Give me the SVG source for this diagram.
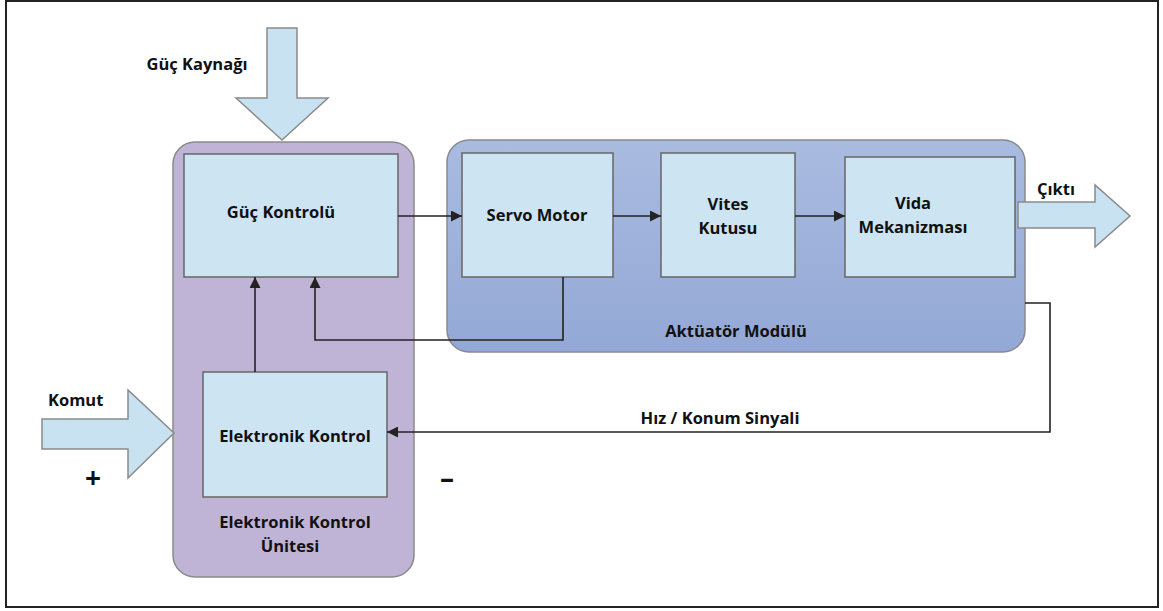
<svg xmlns="http://www.w3.org/2000/svg" width="1163" height="611" viewBox="0 0 1163 611">
  <defs>
    <marker id="ah" viewBox="0 0 10 10" refX="10" refY="5" markerWidth="11" markerHeight="11" markerUnits="userSpaceOnUse" orient="auto">
      <path d="M0,0 L10,5 L0,10 Z" fill="#222"/>
    </marker>
    <linearGradient id="modGrad" x1="0" y1="0" x2="0" y2="1">
      <stop offset="0" stop-color="#a9bbdf"/>
      <stop offset="1" stop-color="#93a8d6"/>
    </linearGradient>
  </defs>
  <style>
    .t { font-family: "Open Sans", "Liberation Sans", sans-serif; font-weight: bold; font-size: 16.5px; fill: #111; text-anchor: middle; }
    .tl { text-anchor: start; }
    .sign { font-size: 28px; }
    .box { fill: #cde4f2; stroke: #666; stroke-width: 1.5; }
    .fat { fill: #c8e2f1; stroke: #8a8a8a; stroke-width: 1.5; }
    .conn { fill: none; stroke: #222; stroke-width: 1.6; }
  </style>
  <rect x="0" y="0" width="1163" height="611" fill="#fff"/>
  <rect x="6" y="1" width="1152" height="606" fill="none" stroke="#222" stroke-width="2"/>

  <g id="ecu">
    <rect x="173" y="142" width="241" height="435" rx="22" fill="#c0b4d6" stroke="#8a8a8a" stroke-width="1.5"/>
    <text class="t" x="295" y="528">Elektronik Kontrol</text>
    <text class="t" x="290" y="552">Ünitesi</text>
  </g>

  <g id="actuator-module">
    <rect x="447" y="140" width="578" height="212" rx="22" fill="url(#modGrad)" stroke="#8a8a8a" stroke-width="1.5"/>
    <text class="t" x="736" y="337">Aktüatör Modülü</text>
  </g>

  <g id="power-source">
    <path class="fat" d="M267,28 L297,28 L297,98 L328,98 L282,140 L236,98 L267,98 Z"/>
    <text class="t" x="197" y="70">Güç Kaynağı</text>
  </g>

  <g id="command">
    <path class="fat" d="M42,419 L128,419 L128,390 L174,433 L128,478 L128,449 L42,449 Z"/>
    <text class="t tl" x="48" y="406">Komut</text>
    <text class="t sign" x="93" y="488">+</text>
    <text class="t sign" x="447" y="488">–</text>
  </g>

  <g id="output">
    <path class="fat" d="M1018,202 L1095,202 L1095,185 L1130,216 L1095,247 L1095,228 L1018,228 Z"/>
    <text class="t tl" x="1037" y="195">Çıktı</text>
  </g>

  <g id="power-control">
    <rect class="box" x="184" y="154" width="214" height="123"/>
    <text class="t" x="281" y="218">Güç Kontrolü</text>
  </g>

  <g id="electronic-control">
    <rect class="box" x="203" y="372" width="184" height="125"/>
    <text class="t" x="295" y="442">Elektronik Kontrol</text>
  </g>

  <g id="servo-motor">
    <rect class="box" x="462" y="153" width="151" height="124"/>
    <text class="t" x="537" y="221">Servo Motor</text>
  </g>

  <g id="gearbox">
    <rect class="box" x="661" y="153" width="134" height="124"/>
    <text class="t" x="728" y="210">Vites</text>
    <text class="t" x="728" y="234">Kutusu</text>
  </g>

  <g id="screw-mechanism">
    <rect class="box" x="845" y="157" width="170" height="120"/>
    <text class="t" x="913" y="209">Vida</text>
    <text class="t" x="913" y="233">Mekanizması</text>
  </g>

  <g id="connectors">
    <path class="conn" d="M398,216 L462,216" marker-end="url(#ah)"/>
    <path class="conn" d="M613,216 L661,216" marker-end="url(#ah)"/>
    <path class="conn" d="M795,216 L845,216" marker-end="url(#ah)"/>
    <path class="conn" d="M255,372 L255,277" marker-end="url(#ah)"/>
    <path class="conn" d="M563,277 L563,340 L315,340 L315,277" marker-end="url(#ah)"/>
    <path class="conn" d="M1025,303 L1050,303 L1050,432 L387,432" marker-end="url(#ah)"/>
    <text class="t" x="720" y="424">Hız / Konum Sinyali</text>
  </g>
</svg>
